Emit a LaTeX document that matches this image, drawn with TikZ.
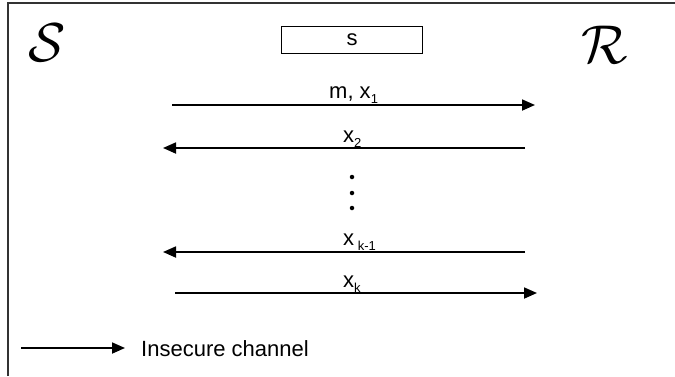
\documentclass[tikz,border=0pt]{standalone}
\usepackage{fontspec}
\setmainfont{Liberation Sans}
\usetikzlibrary{arrows.meta}
\newcommand{\lowidx}[1]{\raisebox{-0.45ex}{\fontsize{13}{13}\selectfont #1}}

\begin{document}
\begin{tikzpicture}[x=1pt,y=-1pt,
  lbl/.style={font=\fontsize{22}{22}\selectfont, inner sep=0pt},
  msg/.style={line width=1.8pt, -{Triangle[length=13pt,width=11pt]}},
  party/.style={font=\Huge, scale=2.2, inner sep=0pt}]
\useasboundingbox (0,0) rectangle (675,376);
\draw[line width=2pt, black!80] (8,376) -- (8,3) -- (675,3);
\node[party] (snd) at (47,43){$\mathcal{S}$};
\node[party] (rcv) at (605,45){$\mathcal{R}$};
\node[draw, line width=1.5pt, minimum width=141pt, minimum height=27pt, font=\fontsize{22}{22}\selectfont] (key) at (352,40){s};
\coordinate (a1s) at (172,105);
\coordinate (a1e) at (535,105);
\draw[msg] (a1s) -- (a1e);
\node[lbl, anchor=base west] (l1) at (329,98){m, x\lowidx{1}};
\coordinate (a2s) at (525,148);
\coordinate (a2e) at (163,148);
\draw[msg] (a2s) -- (a2e);
\node[lbl, anchor=base west] (l2) at (343,142){x\lowidx{2}};
\node[circle, fill, inner sep=0pt, minimum size=4.5pt] (dot1) at (352,177){};
\node[circle, fill, inner sep=0pt, minimum size=4.5pt] (dot2) at (352,193){};
\node[circle, fill, inner sep=0pt, minimum size=4.5pt] (dot3) at (352,208){};
\coordinate (a3s) at (525,252);
\coordinate (a3e) at (163,252);
\draw[msg] (a3s) -- (a3e);
\node[lbl, anchor=base west] (l3) at (343,245){x\,\lowidx{k-1}};
\coordinate (a4s) at (175,293);
\coordinate (a4e) at (537,293);
\draw[msg] (a4s) -- (a4e);
\node[lbl, anchor=base west] (l4) at (343,287){x\lowidx{k}};
\coordinate (lgs) at (21,348);
\coordinate (lge) at (125,348);
\draw[msg] (lgs) -- (lge);
\node[lbl, anchor=west] (lgt) at (141,349){Insecure channel};

\end{tikzpicture}
\end{document}
